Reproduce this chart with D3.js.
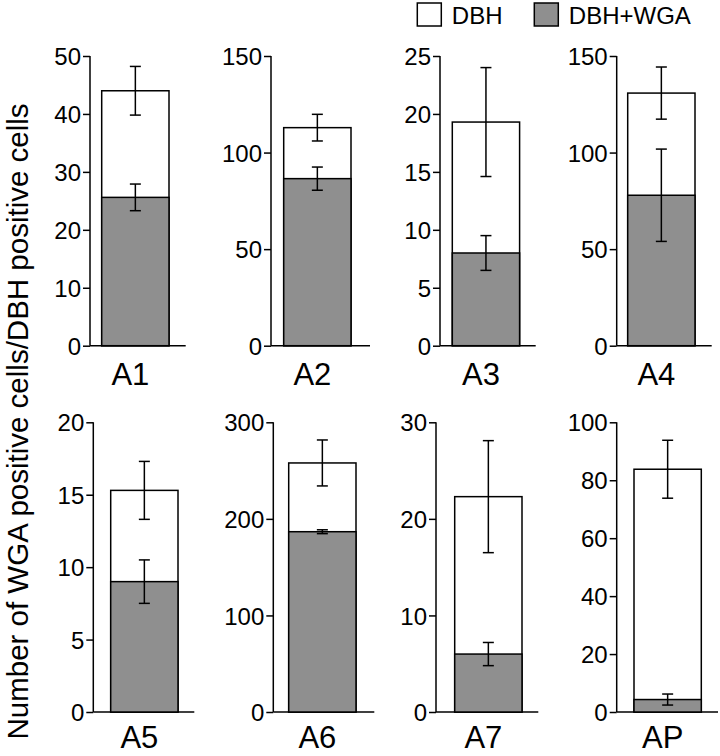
<!DOCTYPE html>
<html>
<head>
<meta charset="utf-8">
<script src="https://cdn.jsdelivr.net/npm/d3@7/dist/d3.min.js"></script>
<style>
html,body{margin:0;padding:0;background:#fff;}
svg{display:block;font-family:"Liberation Sans",Arial,sans-serif;}
</style>
</head>
<body>
<svg id="chart" width="720" height="756"></svg>
<script>
// ---- data ----
const categories = ["A1","A2","A3","A4","A5","A6","A7","AP"];
const dbhValues  = [44.0, 112.9, 19.3, 130.8, 15.3, 257.9, 22.3, 83.8];
const dbhErrors  = [4.2, 6.9, 4.7, 13.5, 2.0, 23.8, 5.8, 10.0];
const wgaValues  = [25.6, 86.5, 8.0, 77.9, 9.0, 186.7, 6.0, 4.3];
const wgaErrors  = [2.3, 6.0, 1.5, 23.9, 1.5, 2.0, 1.2, 1.9];
const yMaxes     = [50, 150, 25, 150, 20, 300, 30, 100];
const tickLabels = [
  [0,10,20,30,40,50],
  [0,50,100,150],
  [0,5,10,15,20,25],
  [0,50,100,150],
  [0,5,10,15,20],
  [0,100,200,300],
  [0,10,20,30],
  [0,20,40,60,80,100]
];
const seriesNames = ["DBH", "DBH+WGA"];
const yLabel = "Number of WGA positive cells/DBH positive cells";

// ---- layout ----
const panelAxisX   = [90, 271, 440, 616.7, 93.3, 273.3, 436, 616.7];
const panelBarOff  = [11.7, 12.7, 12.3, 11, 17.4, 15.4, 18.7, 17.3];
const panelAxisLen = [95.7, 99, 95.7, 95, 101, 101, 102.3, 101.3];
const rowTop  = [56, 422.3];
const rowZero = [345.7, 712];
const rowLabelY = [385, 748];
const barW = 67.3;
const gray = "#8f8f8f";

const svg = d3.select("#chart");

categories.forEach((cat, i) => {
  const row = i < 4 ? 0 : 1;
  const ax = panelAxisX[i];
  const y = d3.scaleLinear().domain([0, yMaxes[i]]).range([rowZero[row], rowTop[row]]);
  const x0 = ax + panelBarOff[i];
  const x = d3.scaleBand().domain([cat]).range([x0, x0 + barW]).padding(0);
  const g = svg.append("g");

  // axis
  const axis = d3.axisLeft(y).tickValues(tickLabels[i]).tickSize(7).tickSizeOuter(0).tickPadding(2);
  const ag = g.append("g").attr("transform", `translate(${ax},0)`).call(axis);
  ag.select(".domain").remove();
  ag.selectAll(".tick line").attr("stroke", "#000").attr("stroke-width", 1.5);
  ag.selectAll(".tick text").attr("font-size", 24).attr("fill", "#000")
    .attr("font-family", "'Liberation Sans',Arial,sans-serif").attr("dy", "0.36em");
  g.append("line").attr("x1", ax).attr("x2", ax)
    .attr("y1", y(0)).attr("y2", y(yMaxes[i])).attr("stroke", "#000").attr("stroke-width", 1.5);
  g.append("line").attr("x1", ax).attr("x2", ax + panelAxisLen[i])
    .attr("y1", y(0)).attr("y2", y(0)).attr("stroke", "#000").attr("stroke-width", 1.5);

  // bars
  g.append("rect").attr("x", x(cat)).attr("width", x.bandwidth())
    .attr("y", y(dbhValues[i])).attr("height", y(0) - y(dbhValues[i]))
    .attr("fill", "#fff").attr("stroke", "#000").attr("stroke-width", 1.5);
  g.append("rect").attr("x", x(cat)).attr("width", x.bandwidth())
    .attr("y", y(wgaValues[i])).attr("height", y(0) - y(wgaValues[i]))
    .attr("fill", gray).attr("stroke", "#000").attr("stroke-width", 1.5);

  // error bars
  const cx = x(cat) + x.bandwidth() / 2;
  const cap = 5.5;
  [[dbhValues[i], dbhErrors[i]], [wgaValues[i], wgaErrors[i]]].forEach(([v, e]) => {
    const eg = g.append("g").attr("stroke", "#000").attr("stroke-width", 1.5);
    eg.append("line").attr("x1", cx).attr("x2", cx).attr("y1", y(v + e)).attr("y2", y(v - e));
    eg.append("line").attr("x1", cx - cap).attr("x2", cx + cap).attr("y1", y(v + e)).attr("y2", y(v + e));
    eg.append("line").attr("x1", cx - cap).attr("x2", cx + cap).attr("y1", y(v - e)).attr("y2", y(v - e));
  });

  // category label
  g.append("text").attr("x", cx - 5).attr("y", rowLabelY[row])
    .attr("text-anchor", "middle").attr("font-size", 31).attr("fill", "#000").text(cat);
});

// y label
svg.append("text")
  .attr("transform", "translate(27.5,421.5) rotate(-90)")
  .attr("text-anchor", "middle").attr("font-size", 29.5).attr("fill", "#000")
  .text(yLabel);

// legend
const legendX = [417.3, 534.3];
const lg = svg.append("g");
seriesNames.forEach((name, k) => {
  lg.append("rect").attr("x", legendX[k]).attr("y", 3).attr("width", 24).attr("height", 23)
    .attr("fill", k === 0 ? "#fff" : gray).attr("stroke", "#000").attr("stroke-width", 1.5);
  lg.append("text").attr("x", legendX[k] + 34.5).attr("y", 23.5)
    .attr("font-size", 24).attr("fill", "#000").text(name);
});
</script>
</body>
</html>
